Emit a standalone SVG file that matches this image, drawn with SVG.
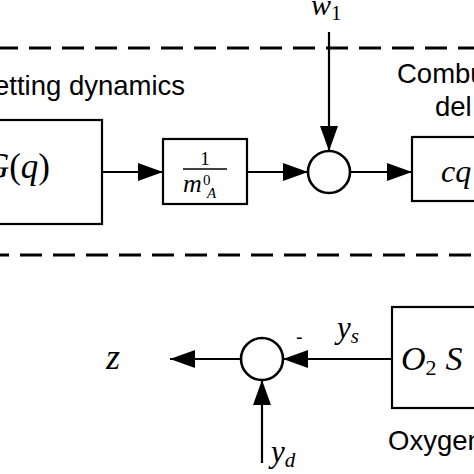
<svg xmlns="http://www.w3.org/2000/svg" width="474" height="474" viewBox="0 0 474 474">
<defs>
<style>
.box{fill:#fff;stroke:#000;stroke-width:2.2}
.sum{fill:#fff;stroke:#000;stroke-width:2.6}
.line{fill:none;stroke:#000;stroke-width:2.2}
.dash{fill:none;stroke:#000;stroke-width:3;stroke-dasharray:22 11}
.lbl{font-family:"Liberation Sans",Arial,sans-serif;font-size:27.5px;fill:#000}
.m{font-family:"Liberation Serif","Times New Roman",serif;font-style:italic;fill:#000}
.u{font-family:"Liberation Serif","Times New Roman",serif;font-style:normal;fill:#000}
</style>
<marker id="ah" viewBox="0 0 25 18" refX="25" refY="9" markerWidth="25" markerHeight="18" markerUnits="userSpaceOnUse" orient="auto">
<path d="M0,0 L25,9 L0,18 Z" fill="#000"/>
</marker>
</defs>
<rect width="474" height="474" fill="#fff"/>
<g id="boundaries">
<line class="dash" x1="-4" y1="48" x2="480" y2="48"/>
<line class="dash" x1="-13" y1="255" x2="480" y2="255"/>
</g>
<g id="labels">
<text class="lbl" x="-6" y="95">etting dynamics</text>
<text class="lbl" x="397" y="83">Combu</text>
<text class="lbl" x="435" y="116">del</text>
<text class="lbl" x="388" y="450">Oxygen</text>
</g>
<g id="G">
<rect class="box" x="-5" y="120" width="107" height="104"/>
<text x="50" y="178" font-size="35" text-anchor="end"><tspan class="m">G</tspan><tspan class="u">(</tspan><tspan class="m">q</tspan><tspan class="u">)</tspan></text>
</g>
<g id="gain">
<rect class="box" x="163" y="139" width="84" height="65"/>
<text class="u" x="205" y="165" font-size="19" text-anchor="middle">1</text>
<line x1="183" y1="169" x2="227" y2="169" stroke="#000" stroke-width="1.5"/>
<text class="m" x="183" y="192" font-size="26">m</text>
<text class="u" x="203" y="185" font-size="15">0</text>
<text class="m" x="207" y="198" font-size="15">A</text>
</g>
<g id="sum1"><circle class="sum" cx="329" cy="172" r="21"/></g>
<g id="cq">
<rect class="box" x="412" y="137" width="70" height="64"/>
<text class="m" x="441" y="182" font-size="32">cq</text>
</g>
<g id="sensor">
<rect class="box" x="392" y="307" width="90" height="101"/>
<text x="401" y="370" font-size="34"><tspan class="m">O</tspan><tspan class="u" font-size="22" dy="5">2</tspan><tspan class="m" dy="-5" dx="9">S</tspan></text>
</g>
<g id="sum2"><circle class="sum" cx="262" cy="359" r="21"/></g>
<g id="w1"><text x="311" y="15" font-size="30"><tspan class="m">w</tspan><tspan class="u" font-size="21" dy="5">1</tspan></text></g>
<g id="z"><text class="m" x="106" y="369" font-size="36">z</text></g>
<g id="ys"><text x="337" y="338" font-size="31"><tspan class="m">y</tspan><tspan class="m" font-size="21" dy="5">s</tspan></text></g>
<g id="yd"><text x="271" y="462" font-size="31"><tspan class="m">y</tspan><tspan class="m" font-size="21" dy="5">d</tspan></text></g>
<g id="minus"><text class="lbl" x="296" y="344" style="font-size:20px">-</text></g>
<g id="connectors">
<line class="line" x1="102" y1="172" x2="163" y2="172" marker-end="url(#ah)"/>
<line class="line" x1="247" y1="172" x2="308" y2="172" marker-end="url(#ah)"/>
<line class="line" x1="329" y1="32" x2="329" y2="151" marker-end="url(#ah)"/>
<line class="line" x1="350" y1="172" x2="412" y2="172" marker-end="url(#ah)"/>
<line class="line" x1="392" y1="359" x2="283" y2="359" marker-end="url(#ah)"/>
<line class="line" x1="241" y1="359" x2="170" y2="359" marker-end="url(#ah)"/>
<line class="line" x1="262" y1="463" x2="262" y2="380" marker-end="url(#ah)"/>
</g>
</svg>
